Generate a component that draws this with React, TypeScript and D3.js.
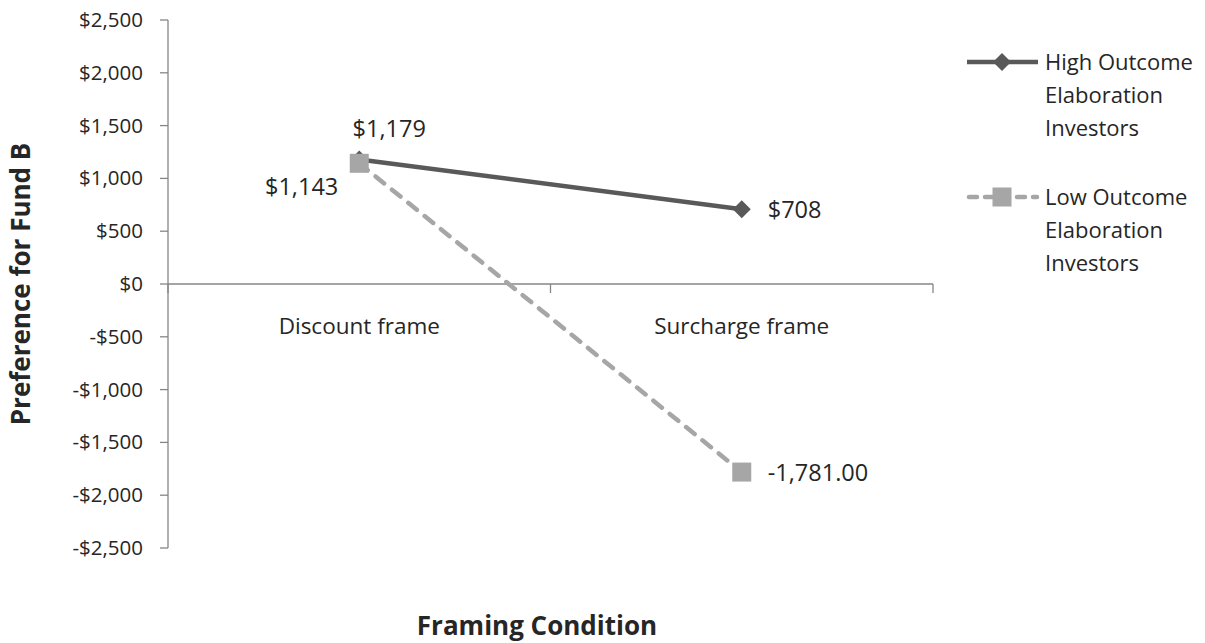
import React from "react";
import * as d3 from "d3";

// Framing conditions on the x axis
const categories = ["Discount frame", "Surcharge frame"];
// Mean preference for Fund B per investor group
const highElaboration = [1179, 708];
const lowElaboration = [1143, -1781];
const highLabels = ["$1,179", "$708"];
const lowLabels = ["$1,143", "-1,781.00"];
const yTicks = [2500, 2000, 1500, 1000, 500, 0, -500, -1000, -1500, -2000, -2500];
const legendHigh = ["High Outcome", "Elaboration", "Investors"];
const legendLow = ["Low Outcome", "Elaboration", "Investors"];

const W = 1205;
const H = 643;
const FONT = "'Open Sans', Lato, sans-serif";
const TEXT = "#262626";
const AXIS = "#868686";
const DARK = "#595959";
const LIGHT = "#a6a6a6";

const fmtMoney = (v: number) => (v < 0 ? "-$" : "$") + d3.format(",")(Math.abs(v));

export default function App() {
  const x = d3.scaleBand<string>().domain(categories).range([168, 933]).padding(0);
  const y = d3.scaleLinear().domain([-2500, 2500]).range([548, 20]);
  const cx = (c: string) => (x(c) ?? 0) + x.bandwidth() / 2;

  const line = d3
    .line<number>()
    .x((_, i) => cx(categories[i]))
    .y((d) => y(d));

  const diamond = (px: number, py: number, r: number) =>
    `M${px},${py - r}L${px + r},${py}L${px},${py + r}L${px - r},${py}Z`;

  const y0 = y(0);
  const xTickPositions = [168, ...categories.map((c) => (x(c) ?? 0) + x.bandwidth())];

  return (
    <svg
      width={W}
      height={H}
      style={{ position: "absolute", left: 0, top: 0, background: "#fff" }}
      fontFamily={FONT}
    >
      {/* value axis */}
      <line x1={168} x2={168} y1={y(2500)} y2={y(-2500)} stroke={AXIS} strokeWidth={1.3} />
      {yTicks.map((t) => (
        <g key={t}>
          <line x1={160} x2={168} y1={y(t)} y2={y(t)} stroke={AXIS} strokeWidth={1.3} />
          <text x={143} y={y(t) + 7} textAnchor="end" fontSize={20.5} fill={TEXT}>
            {fmtMoney(t)}
          </text>
        </g>
      ))}

      {/* category axis at zero */}
      <line x1={168} x2={933} y1={y0} y2={y0} stroke={AXIS} strokeWidth={1.3} />
      {xTickPositions.map((p, i) => (
        <line key={i} x1={p} x2={p} y1={y0} y2={y0 + 9} stroke={AXIS} strokeWidth={1.3} />
      ))}
      {categories.map((c) => (
        <text key={c} x={cx(c)} y={y0 + 50} textAnchor="middle" fontSize={22.5} fill={TEXT}>
          {c}
        </text>
      ))}

      {/* High outcome elaboration series */}
      <path d={line(highElaboration) ?? ""} fill="none" stroke={DARK} strokeWidth={4.5} />
      {highElaboration.map((v, i) => (
        <path key={i} d={diamond(cx(categories[i]), y(v), 9)} fill={DARK} />
      ))}

      {/* Low outcome elaboration series */}
      <path
        d={line(lowElaboration) ?? ""}
        fill="none"
        stroke={LIGHT}
        strokeWidth={4.5}
        strokeDasharray="11 10"
        strokeLinecap="round"
      />
      {lowElaboration.map((v, i) => (
        <rect key={i} x={cx(categories[i]) - 9.5} y={y(v) - 9.5} width={19} height={19} fill={LIGHT} />
      ))}

      {/* data labels */}
      <text x={cx(categories[0]) + 30} y={y(highElaboration[0]) - 22} textAnchor="middle" fontSize={23.5} fill={TEXT}>
        {highLabels[0]}
      </text>
      <text x={cx(categories[1]) + 26} y={y(highElaboration[1]) + 9} textAnchor="start" fontSize={23.5} fill={TEXT}>
        {highLabels[1]}
      </text>
      <text x={cx(categories[0]) - 21} y={y(lowElaboration[0]) + 32} textAnchor="end" fontSize={23.5} fill={TEXT}>
        {lowLabels[0]}
      </text>
      <text x={cx(categories[1]) + 26} y={y(lowElaboration[1]) + 9} textAnchor="start" fontSize={23.5} fill={TEXT}>
        {lowLabels[1]}
      </text>

      {/* legend */}
      <line x1={967} x2={1038} y1={62} y2={62} stroke={DARK} strokeWidth={4.5} />
      <path d={diamond(1002, 62, 9)} fill={DARK} />
      {legendHigh.map((t, i) => (
        <text key={t} x={1045} y={70 + i * 33} fontSize={22} fill={TEXT}>
          {t}
        </text>
      ))}
      <line
        x1={969}
        x2={1037}
        y1={197}
        y2={197}
        stroke={LIGHT}
        strokeWidth={4.5}
        strokeDasharray="8 8"
        strokeLinecap="round"
      />
      <rect x={992.5} y={187.5} width={19} height={19} fill={LIGHT} />
      {legendLow.map((t, i) => (
        <text key={t} x={1045} y={205 + i * 33} fontSize={22} fill={TEXT}>
          {t}
        </text>
      ))}

      {/* axis titles */}
      <text
        transform={`translate(30, ${y0}) rotate(-90)`}
        textAnchor="middle"
        fontSize={26}
        fontWeight="bold"
        fill={TEXT}
      >
        Preference for Fund B
      </text>
      <text x={537} y={635} textAnchor="middle" fontSize={26} fontWeight="bold" fill={TEXT}>
        Framing Condition
      </text>
    </svg>
  );
}
